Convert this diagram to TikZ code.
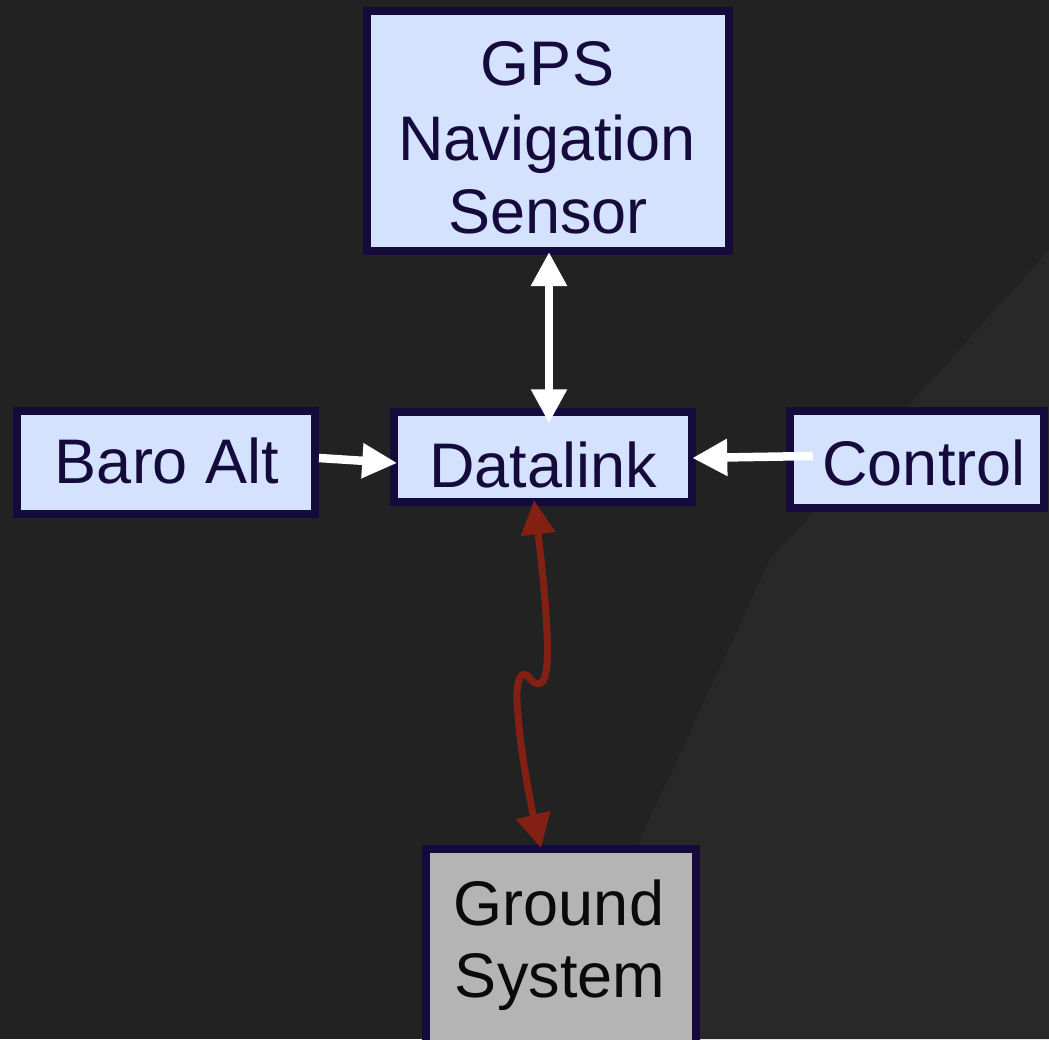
\documentclass[tikz,border=0pt]{standalone}
\usepackage{fontspec}
\setmainfont{Liberation Sans}
\usetikzlibrary{arrows.meta}
\definecolor{bg}{RGB}{34,34,34}
\definecolor{bglight}{RGB}{40,40,40}
\definecolor{boxfill}{RGB}{213,226,253}
\definecolor{boxline}{RGB}{20,10,60}
\definecolor{txt}{RGB}{20,10,60}
\definecolor{gndfill}{RGB}{180,180,180}
\definecolor{gndtxt}{RGB}{10,10,10}
\definecolor{link}{RGB}{130,32,20}
\begin{document}
\begin{tikzpicture}[x=1pt,y=-1pt,
  box/.style={draw=boxline, fill=boxfill, line width=8pt, rectangle, inner sep=0pt},
  lbl/.style={anchor=base, inner sep=0pt, text=txt, font=\fontsize{63}{75}\selectfont},
  wire/.style={draw=white, line width=8.5pt},
  radio/.style={draw=link, line width=7pt}
]
\clip (0,0) rectangle (1049,1039);
\fill[bg] (0,0) rectangle (1049,1039);
\fill[bglight] (600,1039) -- (640,840) -- (770,560) -- (1049,250) -- (1049,1039) -- cycle;

% boxes
\node[box, minimum width=362pt, minimum height=240pt] (gps) at (548,131) {};
\node[box, minimum width=298pt, minimum height=103pt] (baro) at (166,462.5) {};
\node[box, minimum width=298.5pt, minimum height=89.5pt] (dl) at (543,457) {};
\node[box, minimum width=253.5pt, minimum height=97pt] (ctrl) at (917,459) {};
\node[box, fill=gndfill, minimum width=270pt, minimum height=300pt, anchor=north] (gnd) at (561,845) {};

% labels
\node[lbl] (gps1) at (547.5,85) {GPS};
\node[lbl] (gps2) at (547,160) {Navigation};
\node[lbl] (gps3) at (548,233) {Sensor};
\node[lbl] (barol) at (167,483) {Baro Alt};
\node[lbl] (dll) at (543,487) {Datalink};
\node[lbl] (ctrll) at (924,485) {Control};
\node[lbl, text=gndtxt] (gnd1) at (559,925) {Ground};
\node[lbl, text=gndtxt] (gnd2) at (560,997) {System};

% connectors
\draw[wire, {Triangle[length=34pt,width=34pt]}-{Triangle[length=34pt,width=34pt]}]
  ([xshift=1pt,yshift=3pt]gps.south) -- ([xshift=6pt,yshift=-15pt]dl.north);
\draw[wire, -{Triangle[length=35pt,width=33pt]}]
  ([yshift=4.5pt]baro.east) -- ([xshift=7.5pt,yshift=-6pt]dl.west);
\draw[wire, -{Triangle[length=35pt,width=35pt]}]
  ([xshift=26.5pt,yshift=3pt]ctrl.west) -- ([xshift=-4pt,yshift=-1pt]dl.east);
\draw[radio, {Triangle[length=34pt,width=33pt]}-{Triangle[length=34pt,width=34pt]}]
  ([xshift=-9pt,yshift=5.5pt]dl.south)
  .. controls (545,590) and (550,650) .. (546,672)
  .. controls (543,690) and (533,684) .. (528,676)
  .. controls (518,668) and (515,690) .. (518,715)
  .. controls (521,760) and (535,823) .. ([xshift=-20pt,yshift=-3pt]gnd.north);
\end{tikzpicture}
\end{document}
